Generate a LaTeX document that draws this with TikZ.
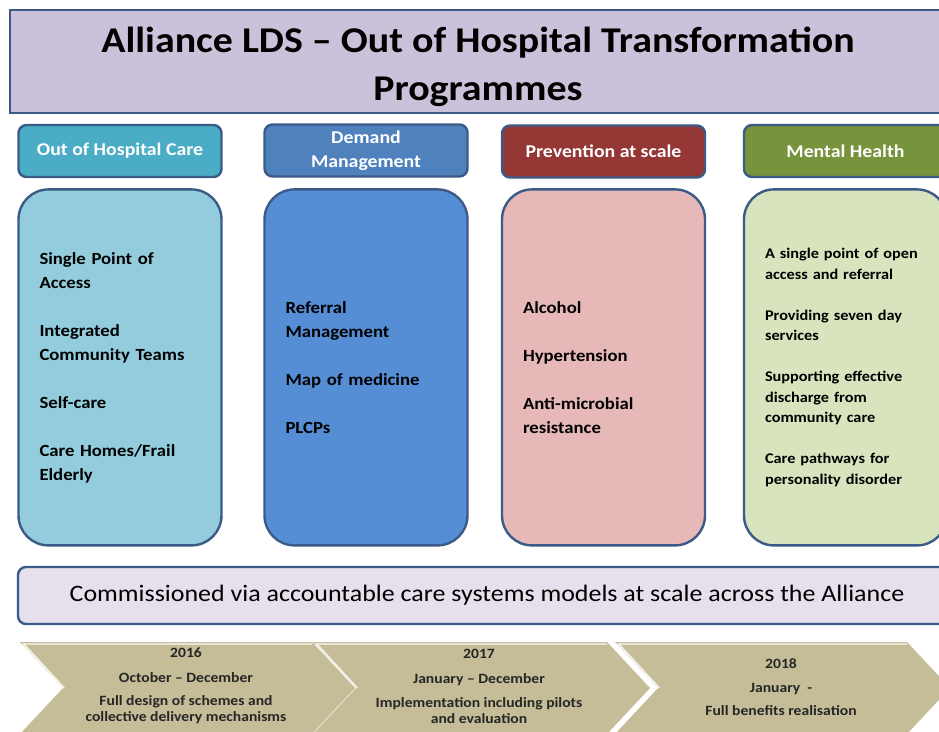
\documentclass[tikz,border=0pt]{standalone}
\usepackage{fontspec}
\setmainfont{Carlito}[FakeStretch=1.1]
\usetikzlibrary{positioning}
\definecolor{edge}{HTML}{3C5A87}
\definecolor{titlefill}{HTML}{CCC1DA}
\definecolor{hdrA}{HTML}{4BACC6}\definecolor{colA}{HTML}{93CDDD}
\definecolor{hdrB}{HTML}{4F81BD}\definecolor{colB}{HTML}{558ED5}
\definecolor{hdrC}{HTML}{953735}\definecolor{colC}{HTML}{E6B9B8}
\definecolor{hdrD}{HTML}{77933C}\definecolor{colD}{HTML}{D7E4BD}
\definecolor{commfill}{HTML}{E6E0EC}
\definecolor{chev}{HTML}{C4BD97}
\begin{document}
\begin{tikzpicture}[x=1pt,y=-1pt,
	box/.style={draw=edge,line width=2.4pt,rounded corners=8pt,inner sep=0pt},
	hdr/.style={box,minimum width=203pt,minimum height=52pt,text=white,align=center,
		font=\fontsize{18}{24}\selectfont\bfseries},
	col/.style={box,rounded corners=30pt,minimum width=203pt,minimum height=356pt,
		text width=161pt,align=left,font=\fontsize{17}{24}\selectfont\bfseries},
	chevtext/.style={align=center,inner sep=0pt,text=black!85,font=\fontsize{14.2}{16}\selectfont\bfseries}]
	\useasboundingbox (0,0) rectangle (939,731);
	\clip (0,0) rectangle (939,731);
	% title
	\node[box,rounded corners=0pt,fill=titlefill,minimum width=940pt,minimum height=103pt] (title) at (480,61.5) {};
	\node[align=center,font=\fontsize{36.3}{48}\selectfont\bfseries] (titletext) at (478,66.5) {Alliance LDS – Out of Hospital Transformation\\Programmes};
	% programme headers
	\node[hdr,fill=hdrA] (ohc) at (120,151) {Out of Hospital Care};
	\node[hdr,fill=hdrB] (dm) at (366,150.5) {Demand\\Management};
	\node[hdr,fill=hdrC] (prev) at (603.5,151.5) {Prevention at scale};
	\node[hdr,fill=hdrD] (mh) at (845.5,151) {Mental Health};
	% programme contents
	\node[col,fill=colA,below=10pt of ohc] (ohcbody) {Single Point of\\Access\\[24pt]Integrated\\Community Teams\\[24pt]Self-care\\[24pt]Care Homes/Frail\\Elderly};
	\node[col,fill=colB,below=10.5pt of dm] (dmbody) {Referral\\Management\\[24pt]Map of medicine\\[24pt]PLCPs};
	\node[col,fill=colC,below=9.5pt of prev] (prevbody) {Alcohol\\[24pt]Hypertension\\[24pt]Anti-microbial\\resistance};
	\node[col,fill=colD,below=10pt of mh,font=\fontsize{14.8}{20.5}\selectfont\bfseries] (mhbody) {A single point of open\\access and referral\\[20.5pt]Providing seven day\\services\\[20.5pt]Supporting effective\\discharge from\\community care\\[20.5pt]Care pathways for\\personality disorder};
	% commissioning
	\node[box,fill=commfill,minimum width=938pt,minimum height=57pt,font=\fontsize{23.6}{28}\selectfont] (comm) at (487,595.5) {Commissioned via accountable care systems models at scale across the Alliance};
	% timeline
	\foreach \l/\r/\n in {20/312/a,313/607/b,615/907/c}{
		\fill[chev] (\l,642)--(\r,642)--(\r+43,688)--(\r,734)--(\l,734)--(\l+43,688)--cycle;
		\draw[white!60!chev,line width=2pt] (\l+3,643.5)--(\r,643.5);
		\draw[white!80!chev,line width=2pt] (\l+3,643.5)--(\l+44,688);
		\coordinate (tl\n) at (\l,642);
	}
	\node[chevtext] (t16) at (186,686) {2016\\[9pt]October – December\\[7pt]Full design of schemes and\\collective delivery mechanisms};
	\node[chevtext] (t17) at (479,686) {2017\\[9pt]January – December\\[8pt]Implementation including pilots\\and evaluation};
	\node[chevtext] (t18) at (781,687) {2018\\[8pt]January \ -\\[7pt]Full benefits realisation};
\end{tikzpicture}
\end{document}
